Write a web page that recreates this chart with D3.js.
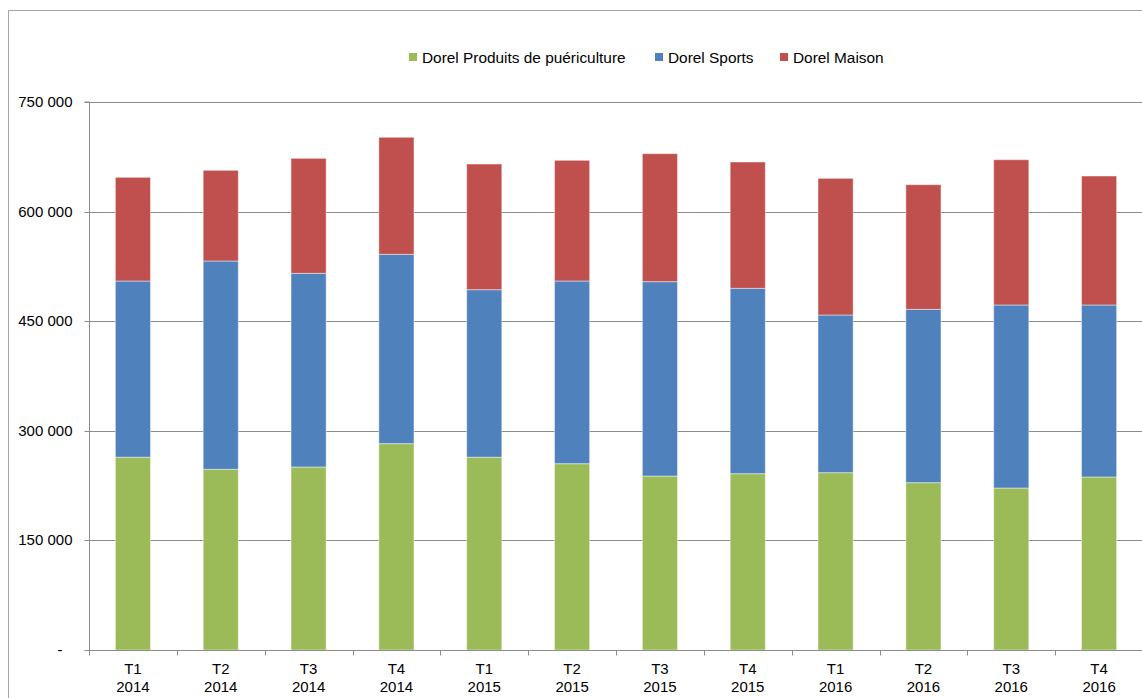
<!DOCTYPE html>
<html><head><meta charset="utf-8">
<script src="https://cdn.jsdelivr.net/npm/d3@7"></script>
<style>
body{margin:0;background:#fff;}
svg{display:block;font-family:"Liberation Sans",Arial,sans-serif;}
</style></head>
<body>
<svg id="c" width="1142" height="698"></svg>
<script>
const quarters = ["T1","T2","T3","T4","T1","T2","T3","T4","T1","T2","T3","T4"];
const years = ["2014","2014","2014","2014","2015","2015","2015","2015","2016","2016","2016","2016"];
const seriesNames = ["Dorel Produits de puériculture","Dorel Sports","Dorel Maison"];
const juvenile = [263900,247300,250500,282400,263900,255000,238100,241300,242700,229000,221700,236800];
const sports = [241100,285100,265000,259100,229200,250000,266000,253700,215800,237200,250500,235400];
const home = [141900,124100,157400,160200,172000,165200,175200,172900,187000,170600,198800,176500];
const yTicks = [0,150000,300000,450000,600000,750000];
const colors = ["#9BBB59","#4F81BD","#C0504D"];

const svg = d3.select("#c");
const L = 89, R = 1143, T = 102, B = 650;

svg.append("rect").attr("x",8.5).attr("y",10.5).attr("width",1200).attr("height",800)
  .attr("fill","none").attr("stroke","#a6a6a6").attr("stroke-width",1);

const cats = quarters.map((q,i)=>i);
const x = d3.scaleBand().domain(cats).range([L,R]).paddingInner(0.6).paddingOuter(0.3);
const y = d3.scaleLinear().domain([0,750000]).range([B,T]);

// gridlines
svg.append("g").selectAll("line").data(yTicks.slice(1)).join("line")
  .attr("x1",L).attr("x2",R).attr("y1",d=>Math.round(y(d))+0.5).attr("y2",d=>Math.round(y(d))+0.5)
  .attr("stroke","#8c8c8c").attr("stroke-width",1);

// stacked data
const rows = cats.map(i=>({i, a:juvenile[i], b:sports[i], c:home[i]}));
const stack = d3.stack().keys(["a","b","c"])(rows);
stack.forEach((s,k)=>{
  svg.append("g").selectAll("rect").data(s).join("rect")
    .attr("x",d=>x(d.data.i)).attr("width",x.bandwidth())
    .attr("y",d=>y(d[1])).attr("height",d=>y(d[0])-y(d[1]))
    .attr("fill",colors[k]).attr("stroke","rgba(255,255,255,0.45)").attr("stroke-width",1);
});

// y axis
const yAxis = d3.axisLeft(y).tickValues(yTicks).tickSize(5).tickPadding(12)
  .tickFormat(d=> d===0 ? "-" : d3.format(",")(d).replace(/,/g," "));
const gy = svg.append("g").attr("transform",`translate(${L+0.5},0)`).call(yAxis);
gy.select(".domain").attr("stroke","#8c8c8c").attr("d",`M-5,${T}H0V${B}`);
gy.selectAll(".tick line").attr("stroke","#8c8c8c");
gy.selectAll(".tick").attr("transform",d=>`translate(0,${Math.round(y(d))+0.5})`);
gy.selectAll("text").attr("font-size","15px").attr("fill","#000").attr("font-family","Liberation Sans, Arial, sans-serif");
gy.selectAll(".tick").filter(d=>d===0).select("text").attr("dx","-10");

// x axis
const gx = svg.append("g").attr("transform",`translate(0,${B+0.5})`);
gx.append("line").attr("x1",L).attr("x2",R).attr("stroke","#8c8c8c");
const bounds = cats.map(i=>x(i)-x.step()*x.paddingInner()/2 - (i===0?x.step()*(x.paddingOuter()-x.paddingInner()/2):0));
gx.selectAll("line.tk").data(cats).join("line").attr("class","tk")
  .attr("x1",i=>Math.round(L + i*x.step()*1)+0.5).attr("x2",i=>Math.round(L + i*x.step())+0.5)
  .attr("y1",0).attr("y2",5).attr("stroke","#8c8c8c");
const lab = gx.selectAll("text").data(cats).join("text")
  .attr("text-anchor","middle").attr("font-size","15px").attr("fill","#000")
  .attr("transform",i=>`translate(${x(i)+x.bandwidth()/2},0)`);
lab.append("tspan").attr("x",0).attr("y",23).text(i=>quarters[i]);
lab.append("tspan").attr("x",0).attr("y",41).text(i=>years[i]);

// legend
const legX = [409,655,780];
const lg = svg.append("g");
seriesNames.forEach((n,k)=>{
  lg.append("rect").attr("x",legX[k]).attr("y",53).attr("width",8).attr("height",8).attr("fill",colors[k]);
  lg.append("text").attr("x",legX[k]+13).attr("y",63).attr("font-size","15.4px").attr("fill","#000").text(n);
});
</script>
</body></html>
